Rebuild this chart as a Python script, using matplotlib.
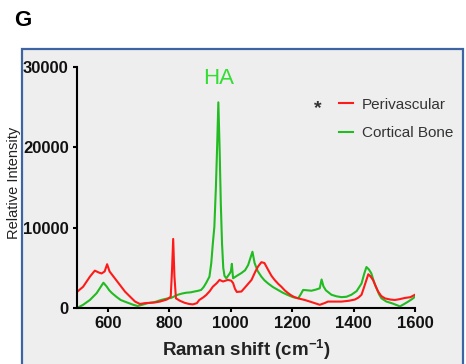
import matplotlib
matplotlib.use("Agg")
import matplotlib.pyplot as plt
from matplotlib.patches import Rectangle

plt.rcParams['font.family'] = ['Liberation Sans', 'DejaVu Sans']

# Raman spectra (shift in cm-1, intensity)
peri_x = [500, 520, 542, 558, 572, 580, 590, 598, 606, 623, 640, 656, 673, 689,
          705, 720, 738, 755, 770, 792, 805, 809, 813, 817, 822, 835, 850, 865,
          877, 890, 898, 910, 920, 932, 942, 955, 964, 975, 991, 1002, 1008, 1014,
          1020, 1035, 1050, 1068, 1080, 1089, 1100, 1110, 1122, 1133, 1143, 1155,
          1165, 1176, 1187, 1198, 1208, 1225, 1241, 1258, 1274, 1290, 1305, 1317,
          1340, 1361, 1385, 1404, 1416, 1426, 1436, 1448, 1456, 1464, 1472, 1480,
          1490, 1502, 1520, 1535, 1550, 1567, 1585, 1600]
peri_y = [2000, 2650, 3900, 4650, 4400, 4300, 4550, 5450, 4550, 3700, 2850, 2050,
          1400, 800, 500, 600, 650, 700, 800, 1050, 1400, 4500, 8600, 4000, 1200,
          900, 650, 500, 450, 600, 1000, 1300, 1600, 2100, 2650, 3100, 3500, 3300,
          3500, 3400, 3100, 2400, 2000, 2050, 2700, 3500, 4500, 5150, 5700, 5600,
          4750, 4000, 3500, 3000, 2650, 2200, 1850, 1550, 1350, 1150, 1000, 800,
          600, 400, 600, 800, 800, 800, 900, 1050, 1300, 1650, 2800, 4200, 3900,
          3450, 2700, 2050, 1500, 1200, 1050, 1000, 1100, 1250, 1350, 1650]

cort_x = [500, 520, 542, 564, 575, 586, 597, 605, 614, 628, 642, 655, 669, 683,
          697, 712, 730, 750, 774, 790, 806, 828, 842, 855, 870, 882, 895, 904,
          912, 920, 931, 937, 942, 947, 952, 956, 960, 964, 968, 972, 976, 980,
          986, 997, 1001, 1004, 1006, 1008, 1020, 1035, 1047, 1057, 1065, 1071,
          1078, 1088, 1100, 1110, 1122, 1138, 1154, 1170, 1187, 1203, 1220, 1228,
          1236, 1250, 1263, 1278, 1290, 1296, 1302, 1310, 1328, 1345, 1361, 1377,
          1393, 1410, 1426, 1435, 1442, 1450, 1458, 1466, 1475, 1483, 1491, 1507,
          1524, 1538, 1551, 1565, 1578, 1590, 1600]
cort_y = [0, 400, 1000, 1850, 2500, 3150, 2650, 2200, 1850, 1400, 1000, 800, 600,
          400, 250, 400, 600, 700, 1000, 1150, 1250, 1650, 1800, 1900, 1950, 2050,
          2150, 2250, 2600, 3100, 3900, 5600, 8000, 10100, 15000, 20000, 25600,
          20000, 13000, 8000, 5000, 4000, 3700, 4300, 4600, 5500, 4500, 3700, 4000,
          4350, 4700, 5350, 6300, 7000, 5600, 4600, 3900, 3450, 3050, 2600, 2250,
          1900, 1600, 1350, 1200, 1700, 2250, 2200, 2150, 2300, 2450, 3550, 2700,
          2200, 1650, 1450, 1350, 1400, 1650, 2100, 3050, 4300, 5100, 4800, 4300,
          3300, 2450, 1700, 1200, 800, 600, 400, 200, 500, 800, 1100, 1400]

x_ticks = [600, 800, 1000, 1200, 1400, 1600]
y_ticks = [0, 10000, 20000, 30000]

fig = plt.figure(figsize=(4.66, 3.64), dpi=100)
fig.patch.set_facecolor('white')

# panel frame (behind the axes)
fig.patches.append(Rectangle((22 / 466, -0.1), 441 / 466, 0.1 + 315 / 364,
                             transform=fig.transFigure, facecolor='#eeeeee',
                             edgecolor='#3d64a3', linewidth=1.6, zorder=-5))
fig.text(14 / 466, 1 - 21 / 364, 'G', fontsize=16, fontweight='bold',
         va='center', ha='left')

ax = fig.add_axes([77 / 466, 1 - 308 / 364, 338 / 466, 241 / 364])
ax.set_zorder(1)
ax.set_facecolor('none')
ax.plot(cort_x, cort_y, color='#22bb22', lw=1.5, label='Cortical Bone')
ax.plot(peri_x, peri_y, color='#ff1a1a', lw=1.5, label='Perivascular')

ax.set_xlim(500, 1600)
ax.set_ylim(0, 30000)
ax.set_xticks(x_ticks)
ax.set_yticks(y_ticks)
for s in ['top', 'right']:
    ax.spines[s].set_visible(False)
for s in ['left', 'bottom']:
    ax.spines[s].set_linewidth(1.5)
ax.tick_params(length=3, width=1.5, labelsize=12, pad=3)
for lab in ax.get_xticklabels() + ax.get_yticklabels():
    lab.set_fontweight('bold')
    lab.set_color('#111111')

ax.text(962, 28600, 'HA', color='#33dd33', fontsize=16, ha='center', va='center')

handles, labels = ax.get_legend_handles_labels()
leg = ax.legend(handles[::-1], labels[::-1], loc='center left',
                bbox_to_anchor=(331 / 466, 1 - 119 / 364),
                bbox_transform=fig.transFigure, frameon=False, fontsize=11,
                handlelength=0.95, handletextpad=0.55, labelspacing=0.95,
                borderpad=0)
for t in leg.get_texts():
    t.set_color('#333333')
fig.text(318 / 466, 1 - 109 / 364, '*', fontsize=14, fontweight='bold',
         color='#333333', ha='center', va='center')

fig.text(14 / 466, 1 - 183 / 364, 'Relative Intensity', rotation=90,
         fontsize=10.5, ha='center', va='center', color='#222222')
fig.text(246 / 466, 1 - 350 / 364, 'Raman shift (cm$^{\\mathregular{-1}}$)',
         fontsize=13.5, fontweight='bold', ha='center', va='center',
         color='#222222')

fig.savefig('out.png', dpi=100)
